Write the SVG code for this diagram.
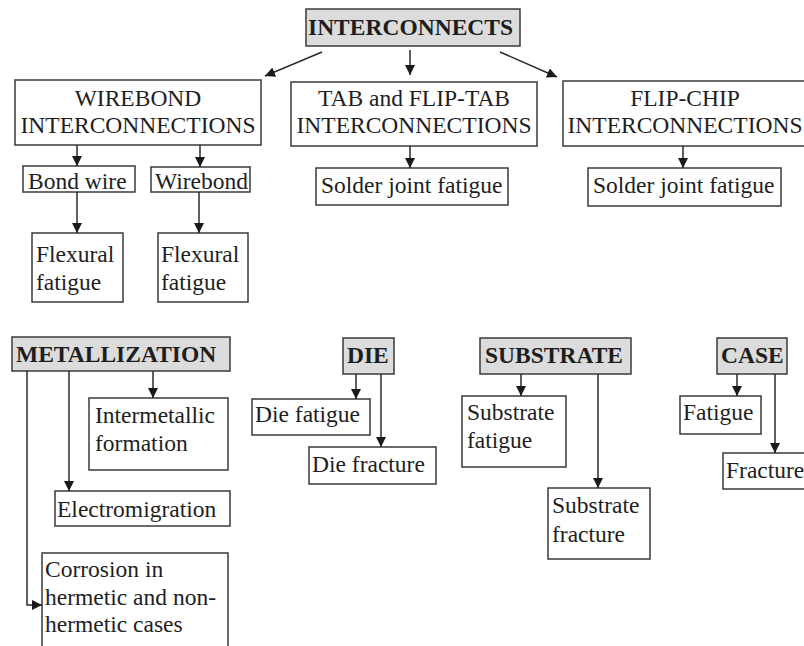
<svg xmlns="http://www.w3.org/2000/svg" width="804" height="646" viewBox="0 0 804 646">
<defs>
<marker id="ah" markerUnits="userSpaceOnUse" markerWidth="10" markerHeight="10" refX="10" refY="5" orient="auto">
<path d="M0,0 L10,5 L0,10 z" fill="#1a1a1a"/>
</marker>
<style>
rect{fill:#fff;stroke:#3a3a3a;stroke-width:1.5}
.h rect{fill:#dcdcdc}
text{font-family:"Liberation Serif","Times New Roman",serif;font-size:23.5px;fill:#1e1e1e}
.h text{font-weight:bold}
.c{text-anchor:middle}
#connectors line,#connectors path{stroke:#2a2a2a;stroke-width:1.5;fill:none;marker-end:url(#ah)}
</style>
</defs>
<rect x="0" y="0" width="804" height="646" style="fill:#fff;stroke:none"/>
<g id="interconnects" class="h"><rect x="306" y="9" width="214" height="37"/><text x="308" y="35">INTERCONNECTS</text></g>
<g id="wirebond-ic"><rect x="15" y="80" width="246" height="65"/><text class="c" x="138" y="106">WIREBOND</text><text class="c" x="138" y="133">INTERCONNECTIONS</text></g>
<g id="tab-ic"><rect x="291" y="82" width="246" height="64"/><text class="c" x="414" y="106">TAB and FLIP-TAB</text><text class="c" x="414" y="133">INTERCONNECTIONS</text></g>
<g id="flipchip-ic"><rect x="563" y="81" width="245" height="65"/><text class="c" x="685" y="106">FLIP-CHIP</text><text class="c" x="685" y="133">INTERCONNECTIONS</text></g>
<g id="bond-wire"><rect x="23" y="166" width="112" height="26"/><text x="28" y="189">Bond wire</text></g>
<g id="wirebond"><rect x="151" y="167" width="99" height="25"/><text x="155" y="189">Wirebond</text></g>
<g id="flex1"><rect x="32" y="233" width="91" height="69"/><text x="36" y="262">Flexural</text><text x="36" y="290">fatigue</text></g>
<g id="flex2"><rect x="158" y="233" width="90" height="69"/><text x="161" y="262">Flexural</text><text x="161" y="290">fatigue</text></g>
<g id="solder1"><rect x="316" y="168" width="192" height="37"/><text x="321" y="193">Solder joint fatigue</text></g>
<g id="solder2"><rect x="588" y="168" width="193" height="38"/><text x="593" y="193">Solder joint fatigue</text></g>
<g id="metallization" class="h"><rect x="12" y="337" width="218" height="34"/><text x="16" y="362">METALLIZATION</text></g>
<g id="intermetallic"><rect x="89" y="398" width="139" height="72"/><text x="95" y="423">Intermetallic</text><text x="95" y="451">formation</text></g>
<g id="electromigration"><rect x="55" y="491" width="175" height="35"/><text x="57" y="517">Electromigration</text></g>
<g id="corrosion"><rect x="42" y="553" width="186" height="100"/><text x="45" y="577">Corrosion in</text><text x="45" y="605">hermetic and non-</text><text x="45" y="632">hermetic cases</text></g>
<g id="die" class="h"><rect x="343" y="338" width="51" height="36"/><text x="347" y="363">DIE</text></g>
<g id="die-fatigue"><rect x="252" y="399" width="118" height="36"/><text x="255" y="422">Die fatigue</text></g>
<g id="die-fracture"><rect x="309" y="447" width="127" height="37"/><text x="312" y="472">Die fracture</text></g>
<g id="substrate" class="h"><rect x="480" y="338" width="151" height="36"/><text x="485" y="363">SUBSTRATE</text></g>
<g id="substrate-fatigue"><rect x="462" y="396" width="104" height="71"/><text x="467" y="420">Substrate</text><text x="467" y="448">fatigue</text></g>
<g id="substrate-fracture"><rect x="548" y="488" width="102" height="71"/><text x="552" y="513">Substrate</text><text x="552" y="542">fracture</text></g>
<g id="case" class="h"><rect x="717" y="338" width="70" height="36"/><text x="721" y="363">CASE</text></g>
<g id="fatigue"><rect x="680" y="396" width="81" height="38"/><text x="683" y="420">Fatigue</text></g>
<g id="fracture"><rect x="723" y="453" width="90" height="36"/><text x="726" y="478">Fracture</text></g>
<g id="connectors">
<line x1="322" y1="52" x2="265" y2="76"/>
<line x1="410" y1="50" x2="410" y2="75"/>
<line x1="500" y1="52" x2="557" y2="77"/>
<line x1="77" y1="145" x2="77" y2="166"/>
<line x1="200" y1="145" x2="200" y2="167"/>
<line x1="77" y1="192" x2="77" y2="233"/>
<line x1="199" y1="192" x2="199" y2="233"/>
<line x1="410" y1="146" x2="410" y2="168"/>
<line x1="683" y1="146" x2="683" y2="168"/>
<path d="M27,371 V605 H42"/>
<line x1="69" y1="371" x2="69" y2="491"/>
<line x1="153" y1="371" x2="153" y2="398"/>
<line x1="356" y1="374" x2="356" y2="399"/>
<line x1="381" y1="374" x2="381" y2="447"/>
<line x1="521" y1="374" x2="521" y2="396"/>
<line x1="598" y1="374" x2="598" y2="488"/>
<line x1="737" y1="374" x2="737" y2="396"/>
<line x1="775" y1="374" x2="775" y2="453"/>
</g>
</svg>
